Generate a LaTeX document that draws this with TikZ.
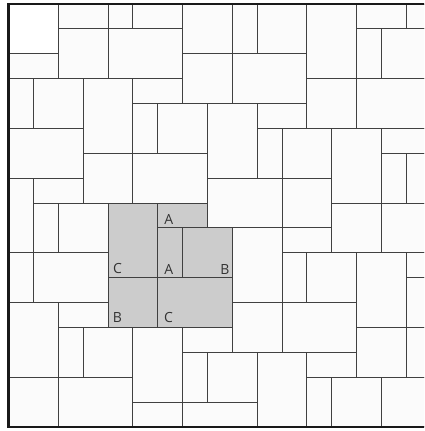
\documentclass[tikz,border=0pt]{standalone}
\usepackage{fontspec}
\setsansfont{Open Sans}
\usepackage{xcolor}
\usepackage{tikz}

\definecolor{slab}{gray}{0.985}
\definecolor{marked}{gray}{0.80}

\begin{document}
\begin{tikzpicture}[x=1cm, y=-1cm, every node/.style={font=\sffamily\fontsize{16}{16}\selectfont}]
  \tikzstyle{paver} = [draw=black!75, line width=1.1pt, fill=slab]
  \tikzstyle{paverwhite} = [paver, fill=white]
  \tikzstyle{pavergray} = [paver, fill=marked]
  \tikzstyle{frame} = [draw=black!90, line width=3.2pt]
  \tikzstyle{tag} = [text=black!80, inner sep=0pt]

  \useasboundingbox (-0.342,-0.165) rectangle (16.707,17.165);
  \clip (-0.342,-0.165) rectangle (16.707,17.165);

  % Plain slabs (left/top/right/bottom in grid units)
  \draw[paverwhite] (0,0) rectangle (2,2);
  \foreach \ca/\ra/\cb/\rb in {0/2/2/3, 2/0/4/1, 4/0/5/1, 5/0/7/1, 2/1/4/3, 4/1/7/3,
      7/0/9/2, 9/0/10/2, 10/0/12/2, 12/0/14/3, 14/0/16/1, 16/0/17/1, 14/1/15/3,
      15/1/17/3, 7/2/9/4, 9/2/12/4, 12/3/14/5, 14/3/17/5, 0/3/1/5, 1/3/3/5,
      3/3/5/6, 5/3/7/4, 5/4/6/6, 6/4/8/6, 8/4/10/7, 10/4/12/5, 10/5/11/7,
      11/5/13/7, 13/5/15/8, 15/5/17/6, 15/6/16/8, 16/6/17/8, 0/5/3/7, 0/7/1/10,
      1/7/3/8, 3/6/5/8, 5/6/8/8, 8/7/11/9, 11/7/13/9, 13/8/15/10, 15/8/17/10,
      1/8/2/10, 2/8/4/10, 9/9/11/12, 11/9/13/10, 0/10/1/12, 1/10/4/12,
      11/10/12/12, 12/10/14/12, 14/10/16/13, 16/10/17/11, 16/11/17/13,
      0/12/2/15, 2/12/4/13, 2/13/3/15, 3/13/5/15, 5/13/7/16, 7/13/9/14,
      9/12/11/14, 11/12/14/14, 14/13/16/15, 16/13/17/15, 0/15/2/17, 2/15/5/17,
      5/16/7/17, 7/14/8/16, 8/14/10/16, 7/16/10/17, 10/14/12/17, 12/14/14/15,
      12/15/13/17, 13/15/15/17, 15/15/17/17}
    \draw[paver] (\ca,\ra) rectangle (\cb,\rb);

  % Shaded set
  \foreach \ca/\ra/\cb/\rb in {4/8/6/11, 6/8/8/9, 6/9/7/11, 7/9/9/11, 4/11/6/13, 6/11/9/13}
    \draw[pavergray] (\ca,\ra) rectangle (\cb,\rb);

  % Labels
  \node[tag] (a1) at (6.45,8.68) {A};
  \node[tag] (a2) at (6.45,10.69) {A};
  \node[tag] (b1) at (8.70,10.69) {B};
  \node[tag] (c1) at (4.38,10.65) {C};
  \node[tag] (b2) at (4.38,12.60) {B};
  \node[tag] (c2) at (6.43,12.60) {C};

  % Border
  \draw[frame] (0,0) rectangle (17,17);
\end{tikzpicture}
\end{document}
